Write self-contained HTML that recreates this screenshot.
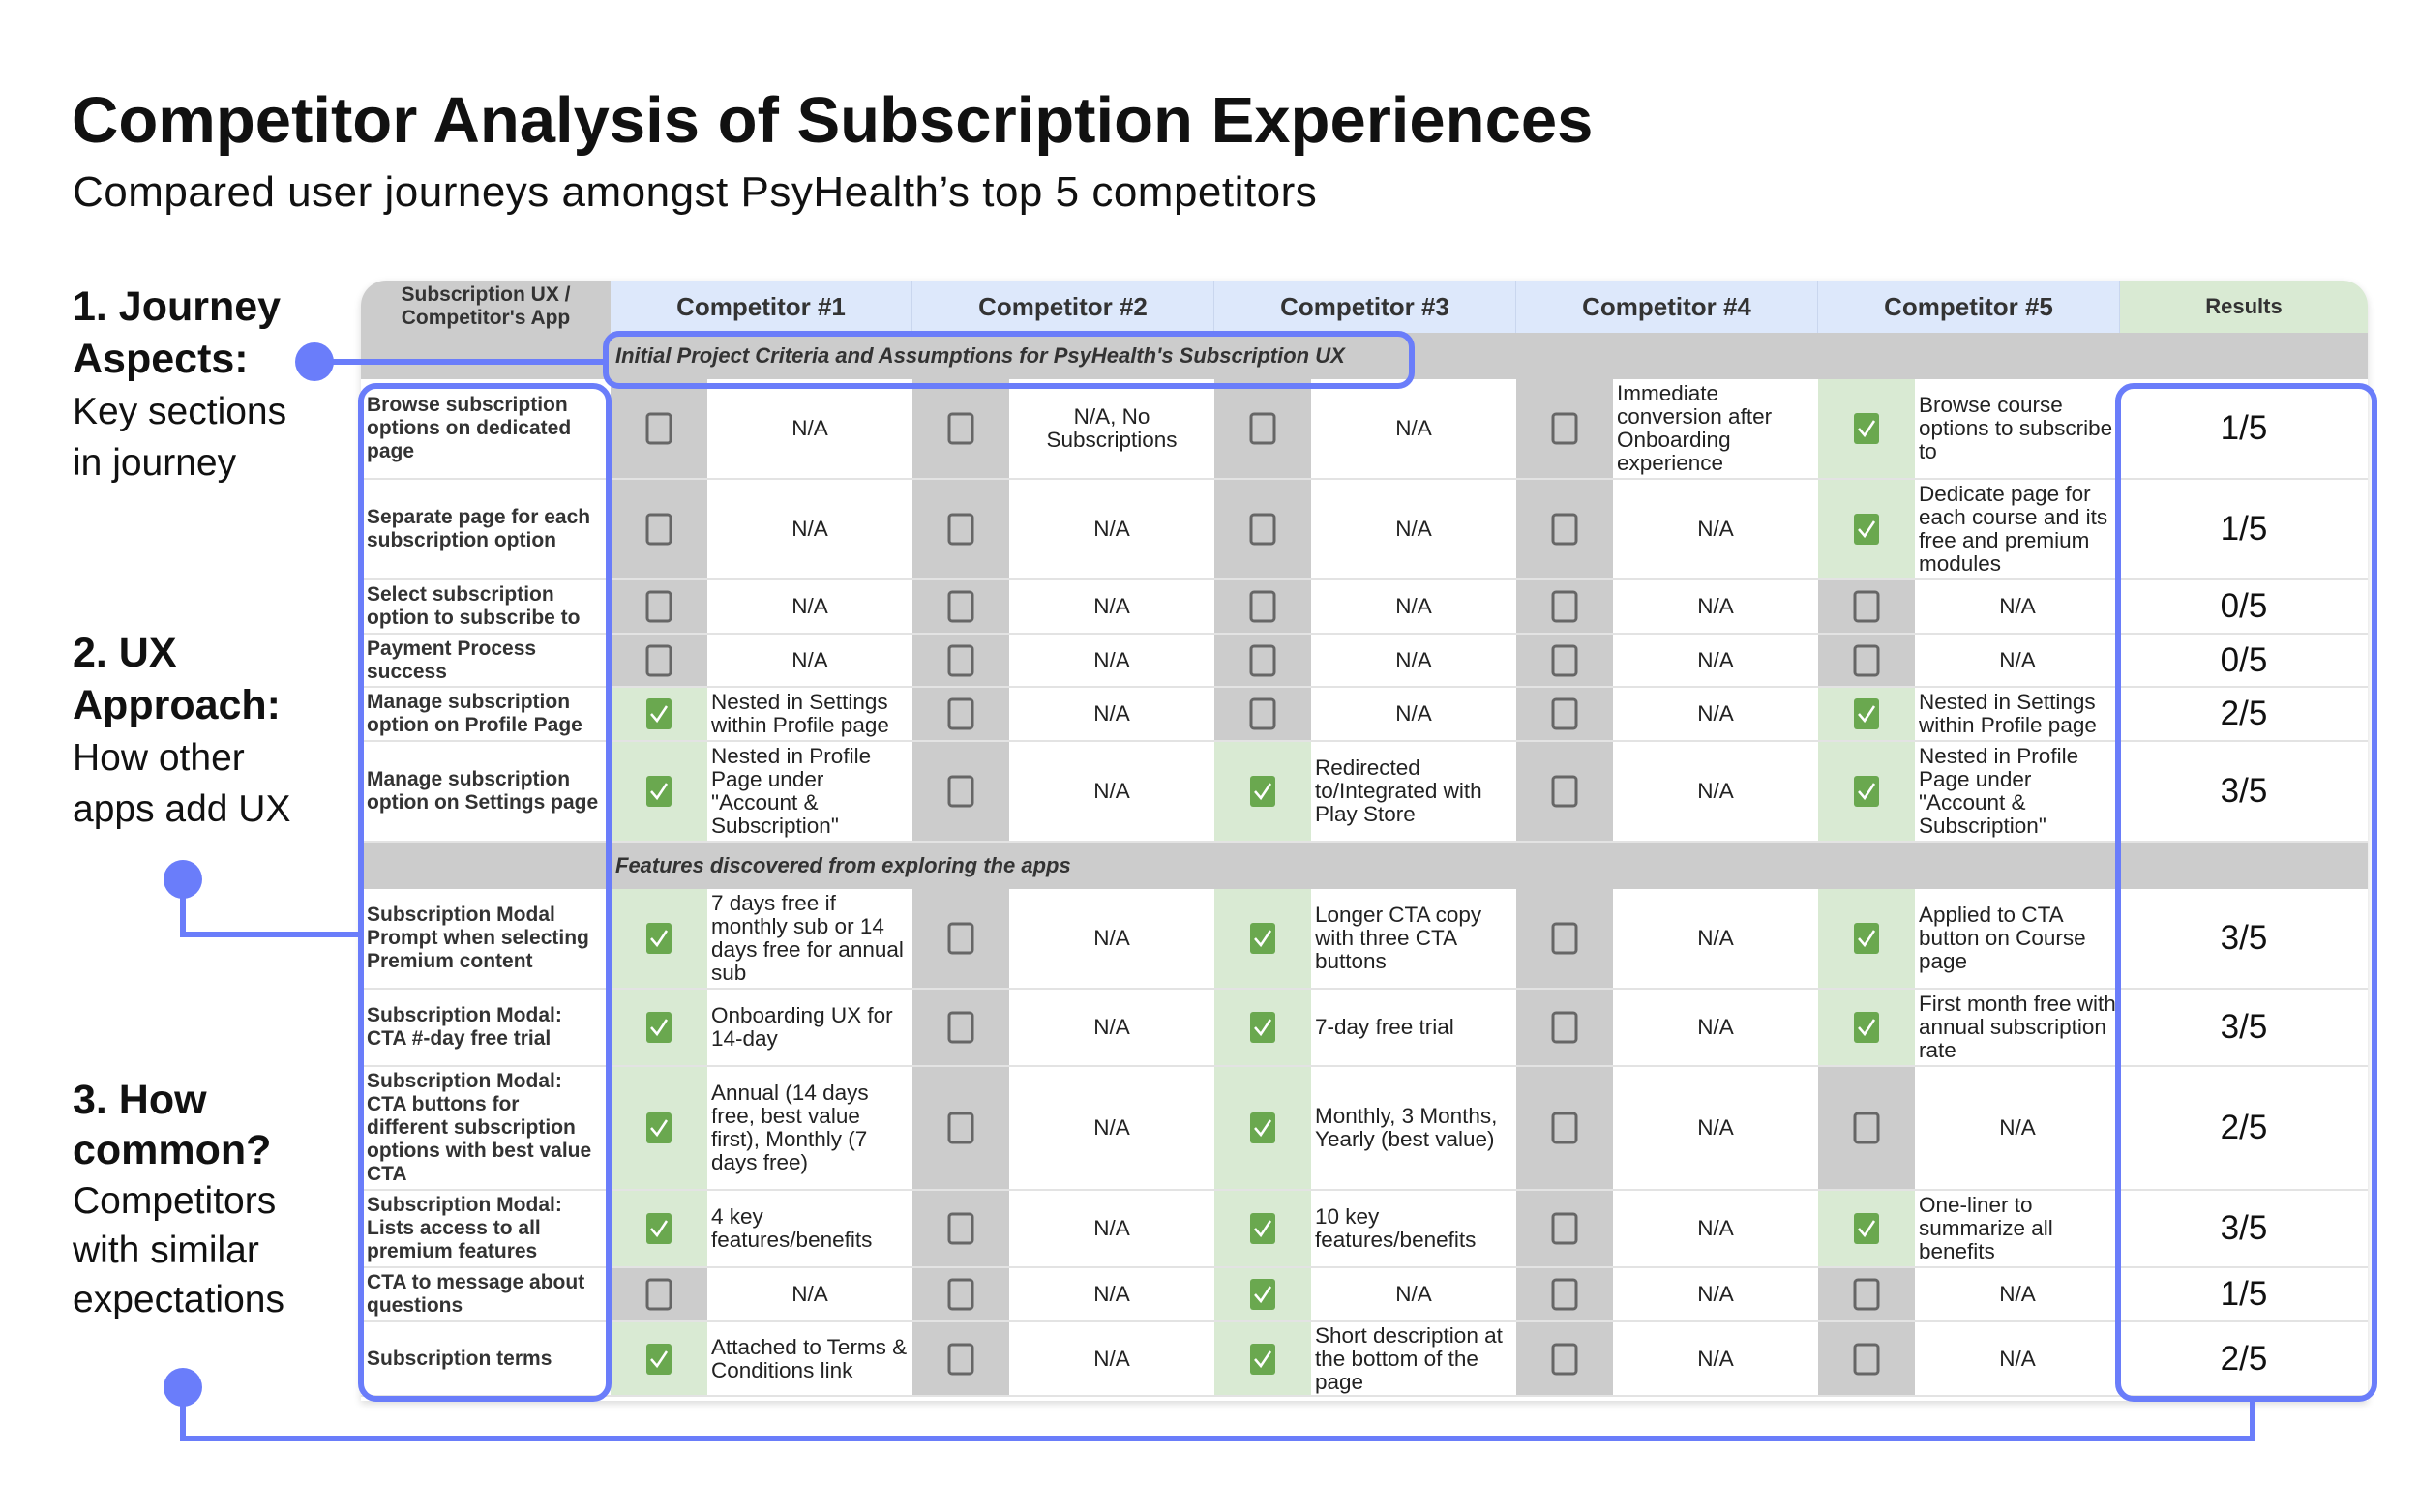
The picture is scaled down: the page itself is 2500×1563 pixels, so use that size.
<!DOCTYPE html>
<html><head><meta charset="utf-8">
<style>
html,body{margin:0;padding:0;background:#fff;}
body{width:2500px;height:1563px;position:relative;overflow:hidden;font-family:"Liberation Sans",sans-serif;color:#111;}
.abs{position:absolute;}
.cell{position:absolute;box-sizing:border-box;display:flex;align-items:center;overflow:hidden;}
.txt{font-size:22.5px;line-height:24px;color:#222;padding:0 4px;}
.lbl{font-size:21px;line-height:24px;font-weight:bold;color:#333;padding:0 6px;}
.hdr{font-size:26px;font-weight:bold;color:#333;justify-content:center;text-align:center;}
.res{font-size:35px;color:#111;justify-content:center;}
.ann{position:absolute;left:75px;font-size:39px;line-height:53px;color:#111;}
.ann b{font-size:43px;}
</style></head>
<body>
<div class="abs" style="left:74px;top:86px;font-size:67px;font-weight:bold;color:#111;">Competitor Analysis of Subscription Experiences</div>
<div class="abs" style="left:75px;top:174px;font-size:44px;color:#111;letter-spacing:0.5px;">Compared user journeys amongst PsyHealth’s top 5 competitors</div>

<div class="ann" style="top:291px;"><b>1. Journey<br>Aspects:</b><br>Key sections<br>in journey</div>
<div class="ann" style="top:649px;"><b>2. UX<br>Approach:</b><br>How other<br>apps add UX</div>
<div class="ann" style="top:1112px;line-height:51px;"><b>3. How<br>common?</b><br>Competitors<br>with similar<br>expectations</div>

<div id="table" class="abs" style="left:0;top:0;width:2500px;height:1563px;"></div>

<svg class="abs" style="left:0;top:0" width="2500" height="1563">
 <g fill="none" stroke="#6a7dfa" stroke-width="6">
  <rect x="626" y="345" width="833" height="54" rx="14"/>
  <rect x="373" y="399" width="256" height="1047" rx="16"/>
  <rect x="2189" y="399" width="265" height="1047" rx="16"/>
  <line x1="325" y1="374" x2="626" y2="374"/>
  <polyline points="189,909 189,966 373,966"/>
  <polyline points="189,1434 189,1487 2328,1487 2328,1446"/>
 </g>
 <circle cx="325" cy="374" r="20" fill="#6a7dfa"/>
 <circle cx="189" cy="909" r="20" fill="#6a7dfa"/>
 <circle cx="189" cy="1434" r="20" fill="#6a7dfa"/>
</svg>

<script>
const competitors = ["Competitor #1","Competitor #2","Competitor #3","Competitor #4","Competitor #5"];
const aspects = ["Browse subscription options on dedicated page","Separate page for each subscription option","Select subscription option to subscribe to","Payment Process success","Manage subscription option on Profile Page","Manage subscription option on Settings page","Subscription Modal Prompt when selecting Premium content","Subscription Modal: CTA #-day free trial","Subscription Modal: CTA buttons for different subscription options with best value CTA","Subscription Modal: Lists access to all premium features","CTA to message about questions","Subscription terms"];
const checks = [[0,0,0,0,1],[0,0,0,0,1],[0,0,0,0,0],[0,0,0,0,0],[1,0,0,0,1],[1,0,1,0,1],[1,0,1,0,1],[1,0,1,0,1],[1,0,1,0,0],[1,0,1,0,1],[0,0,1,0,0],[1,0,1,0,0]];
const notes = [
 ["N/A","N/A, No Subscriptions","N/A","Immediate conversion after Onboarding experience","Browse course options to subscribe to"],
 ["N/A","N/A","N/A","N/A","Dedicate page for each course and its free and premium modules"],
 ["N/A","N/A","N/A","N/A","N/A"],
 ["N/A","N/A","N/A","N/A","N/A"],
 ["Nested in Settings within Profile page","N/A","N/A","N/A","Nested in Settings within Profile page"],
 ["Nested in Profile Page under \"Account & Subscription\"","N/A","Redirected to/Integrated with Play Store","N/A","Nested in Profile Page under \"Account & Subscription\""],
 ["7 days free if monthly sub or 14 days free for annual sub","N/A","Longer CTA copy with three CTA buttons","N/A","Applied to CTA button on Course page"],
 ["Onboarding UX for 14-day","N/A","7-day free trial","N/A","First month free with annual subscription rate"],
 ["Annual (14 days free, best value first), Monthly (7 days free)","N/A","Monthly, 3 Months, Yearly (best value)","N/A","N/A"],
 ["4 key features/benefits","N/A","10 key features/benefits","N/A","One-liner to summarize all benefits"],
 ["N/A","N/A","N/A","N/A","N/A"],
 ["Attached to Terms & Conditions link","N/A","Short description at the bottom of the page","N/A","N/A"]
];
const sections = ["Initial Project Criteria and Assumptions for PsyHealth's Subscription UX","Features discovered from exploring the apps"];
const sectionBefore = [0,6];
const rowHeights = [104,104,56,55,56,104,104,80,128,80,56,77];

const T = document.getElementById('table');
const X0=373, LW=258, CW=312, CB=100, RW=256, TOP=290, HH=54, SH=48;
function box(cls,x,y,w,h,bg,html){
  const d=document.createElement('div');
  d.className='cell '+cls;
  d.style.left=x+'px';d.style.top=y+'px';d.style.width=w+'px';d.style.height=h+'px';
  if(bg)d.style.background=bg;
  if(html!==undefined)d.innerHTML=html;
  T.appendChild(d);return d;
}
const bgd=box('',X0,TOP,LW+5*CW+RW,1448-TOP,'#fff');
bgd.style.borderRadius='26px 26px 0 0';bgd.style.boxShadow='0 3px 8px rgba(0,0,0,0.15)';


let h=box('hdr',X0,TOP,LW,HH,'#cccccc','<span style="font-size:21px;line-height:24px">Subscription UX /<br>Competitor\'s App</span>');
h.style.borderTopLeftRadius='26px';


competitors.forEach((c,i)=>{
  const e=box('hdr',X0+LW+i*CW,TOP,CW,HH,'#dde8fb',c);
  e.style.borderRight='1px solid #c9d6ee';
  
  
});
h=box('hdr',X0+LW+5*CW,TOP,RW,HH,'#d9ead3','<span style="font-size:22px">Results</span>');
h.style.borderTopRightRadius='26px';



const checkSvg='<svg width="28" height="34" viewBox="0 0 28 34"><rect x="1" y="1" width="26" height="32" rx="3" fill="#6aa84f"/><path d="M6 17 L12 24 L22 9" fill="none" stroke="#fff" stroke-width="2.5"/></svg>';
const emptySvg='<svg width="28" height="34" viewBox="0 0 28 34"><rect x="2" y="2" width="24" height="30" rx="3" fill="none" stroke="#666" stroke-width="3"/></svg>';

let y=TOP+HH;
aspects.forEach((a,r)=>{
  const si=sectionBefore.indexOf(r);
  if(si>=0){
    const s=box('',X0,y,LW+5*CW+RW,SH,'#cccccc','<span style="margin-left:'+(LW+5)+'px;font-size:22px;font-weight:bold;font-style:italic;color:#333">'+sections[si]+'</span>');
    
    
    y+=SH;
  }
  const rh=rowHeights[r];
  const l=box('lbl',X0,y,LW,rh,'#fff',a);
  l.style.borderBottom='2px solid #e3e3e3';
  
  
  let cnt=0;
  checks[r].forEach((v,c)=>{
    cnt+=v;
    const x=X0+LW+c*CW;
    const cb=box('',x,y,CB,rh,v?'#d9ead3':'#cccccc',v?checkSvg:emptySvg);
    cb.style.justifyContent='center';cb.style.borderBottom='2px solid #e3e3e3';
    
    
    const t=notes[r][c];
    const center=t.indexOf('N/A')===0;
    const nt=box('txt',x+CB,y,CW-CB,rh,'#fff',t.replace(/&/g,'&amp;'));
    nt.style.borderBottom='2px solid #e3e3e3';
    if(center){nt.style.justifyContent='center';nt.style.textAlign='center';}
    
    
  });
  const rs=box('res',X0+LW+5*CW,y,RW,rh,'#fff',cnt+'/5');
  rs.style.borderBottom='2px solid #e3e3e3';
  
  
  y+=rh;
});
</script>
</body></html>
